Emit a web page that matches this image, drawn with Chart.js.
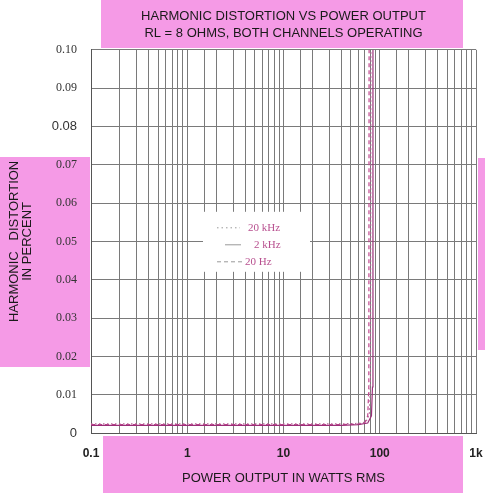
<!DOCTYPE html>
<html>
<head>
<meta charset="utf-8">
<script src="https://cdn.jsdelivr.net/npm/chart.js@4"></script>
<style>
  html, body { margin: 0; padding: 0; background: #fff; }
  #wrap { width: 485px; height: 493px; }
</style>
</head>
<body>
<div id="wrap"><canvas id="myChart" width="485" height="493"></canvas></div>
<script>
// distortion (percent) against power output (watts rms)
const hz20Watts = [0.1, 1, 10, 40, 60, 70, 75, 77, 77.5];
const hz20Dist = [0.0022, 0.0022, 0.0022, 0.0022, 0.0023, 0.0027, 0.0045, 0.012, 0.1];
const khz2Watts = [0.1, 1, 10, 40, 60, 75, 82, 84, 85];
const khz2Dist = [0.002, 0.002, 0.002, 0.002, 0.0022, 0.0026, 0.0045, 0.012, 0.1];
const khz20Watts = [0.1, 1, 10, 40, 60, 72, 78, 80, 81];
const khz20Dist = [0.0024, 0.0024, 0.0024, 0.0024, 0.0025, 0.0029, 0.005, 0.013, 0.1];

const seriesLabels = ["20 kHz", "2 kHz", "20 Hz"];
const xTickLabels = {"0.1": "0.1", "1": "1", "10": "10", "100": "100", "1000": "1k"};

const pink = "#f59ae6";
const sans = "'Liberation Sans', Arial, sans-serif";

function pts(xs, ys) {
  return xs.map((x, i) => ({x: x, y: ys[i]}));
}

// pink paper bands behind the chart
const bands = {
  id: "bands",
  beforeDraw(chart) {
    const ctx = chart.ctx;
    ctx.save();
    ctx.fillStyle = "#fff";
    ctx.fillRect(0, 0, chart.width, chart.height);
    ctx.fillStyle = pink;
    ctx.fillRect(101, 0, 362, 48);
    ctx.fillRect(0, 157, 90, 210);
    ctx.fillRect(478, 158, 7, 192);
    ctx.fillRect(103, 436, 360, 57);
    ctx.fillStyle = "#fff";
    const a = chart.chartArea;
    ctx.fillRect(a.left, a.top, a.right - a.left, a.bottom - a.top);
    ctx.restore();
  }
};

// legend box sitting inside the grid
const boxLegend = {
  id: "boxLegend",
  afterDatasetsDraw(chart) {
    const ctx = chart.ctx;
    const a = chart.chartArea;
    const bx = a.left + 112, by = a.top + 162;
    ctx.save();
    ctx.fillStyle = "#fff";
    ctx.fillRect(bx, by, 107, 60);
    ctx.font = "11px 'Liberation Serif', serif";
    ctx.textBaseline = "middle";
    ctx.fillStyle = "#b8508f";
    const rows = [
      {dash: [1.5, 3], x0: 126, x1: 149, tx: 157, y: 16},
      {dash: [], x0: 134, x1: 150, tx: 163, y: 33},
      {dash: [4, 3], x0: 126, x1: 152, tx: 154, y: 50}
    ];
    rows.forEach((r, i) => {
      ctx.strokeStyle = "#999";
      ctx.lineWidth = 1;
      ctx.setLineDash(r.dash);
      ctx.beginPath();
      ctx.moveTo(a.left + r.x0, by + r.y);
      ctx.lineTo(a.left + r.x1, by + r.y);
      ctx.stroke();
      ctx.fillText(seriesLabels[i], a.left + r.tx, by + r.y);
    });
    ctx.restore();
  }
};

const ctx = document.getElementById("myChart").getContext("2d");

new Chart(ctx, {
  type: "line",
  data: {
    datasets: [{
      label: seriesLabels[0],
      data: pts(khz20Watts, khz20Dist),
      borderColor: "#b86098",
      borderDash: [1.5, 2.5],
      borderWidth: 1.2,
      pointRadius: 0,
      fill: false
    }, {
      label: seriesLabels[1],
      data: pts(khz2Watts, khz2Dist),
      borderColor: "#9a2f78",
      borderWidth: 1.2,
      pointRadius: 0,
      fill: false
    }, {
      label: seriesLabels[2],
      data: pts(hz20Watts, hz20Dist),
      borderColor: "#c2478f",
      borderDash: [4, 3],
      borderWidth: 1.2,
      pointRadius: 0,
      fill: false
    }]
  },
  options: {
    responsive: false,
    animation: false,
    layout: {padding: {top: 0, right: 9, bottom: 0, left: 0}},
    plugins: {
      legend: {display: false},
      tooltip: {enabled: false},
      title: {
        display: true,
        fullSize: false,
        text: ["HARMONIC DISTORTION VS POWER OUTPUT", "RL = 8 OHMS, BOTH CHANNELS OPERATING"],
        color: "#1a1a1a",
        font: {family: sans, size: 13, weight: "normal", lineHeight: 1.3},
        padding: {top: 8, bottom: 8}
      }
    },
    scales: {
      x: {
        type: "logarithmic",
        min: 0.1,
        max: 1000,
        afterFit(scale) { scale.height = 60; },
        grid: {color: "#7a7a7a", lineWidth: 1, drawTicks: true, tickLength: 13, tickColor: "rgba(0,0,0,0)"},
        border: {color: "#555"},
        ticks: {
          autoSkip: false,
          maxRotation: 0,
          padding: 0,
          color: "#222",
          font: {family: sans, size: 12, weight: "bold"},
          callback(value) {
            const key = String(Number(value.toPrecision(6)));
            return xTickLabels[key] !== undefined ? xTickLabels[key] : "";
          }
        },
        title: {
          display: true,
          text: "POWER OUTPUT IN WATTS RMS",
          color: "#1a1a1a",
          font: {family: sans, size: 13, lineHeight: 1.2},
          padding: {top: 0, bottom: 7}
        }
      },
      y: {
        min: 0,
        max: 0.1,
        afterFit(scale) { scale.width = 91; },
        grid: {color: "#7a7a7a", lineWidth: 1, drawTicks: false},
        border: {color: "#555"},
        ticks: {
          stepSize: 0.01,
          padding: 14,
          color: "#333",
          font(c) {
            const v = c.tick ? Math.round(c.tick.value * 100) : -1;
            if (v === 0 || v === 8) return {family: sans, size: 13};
            return {family: "'Liberation Serif', serif", size: 12};
          },
          callback(value) {
            const v = Math.round(value * 100);
            if (v === 0) return "0";
            return (v / 100).toFixed(2);
          }
        },
        title: {
          display: true,
          text: ["HARMONIC   DISTORTION", "IN PERCENT"],
          color: "#1a1a1a",
          font: {family: sans, size: 13, lineHeight: 1.0},
          padding: {top: 8, bottom: 0}
        }
      }
    }
  },
  plugins: [bands, boxLegend]
});
</script>
</body>
</html>
